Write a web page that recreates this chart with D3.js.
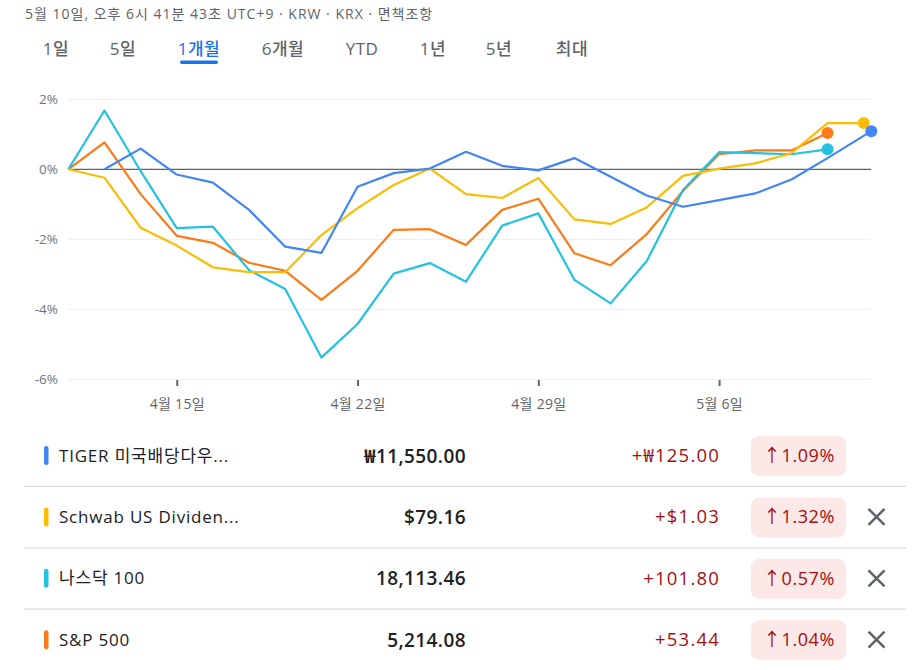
<!DOCTYPE html>
<html><head><meta charset="utf-8">
<script src="https://cdn.jsdelivr.net/npm/d3@7"></script>
<style>
body{margin:0;background:#fff;}
text{font-family:"Open Sans","Noto Sans CJK KR",sans-serif;}
</style></head>
<body><svg id="c" width="916" height="670"></svg>
<script>
const headerText = "5월 10일, 오후 6시 41분 43초 UTC+9 · KRW · KRX · 면책조항";
const tabs = ["1일","5일","1개월","6개월","YTD","1년","5년","최대"];
const tabX = [56,123,199,283,362,433,499,572];
const activeTab = 2;
const yTicks = [2,0,-2,-4,-6];
const xTickIndex = [3,8,13,18];
const xTickLabels = ["4월 15일","4월 22일","4월 29일","5월 6일"];

const tigerX = [1,2,3,4,5,6,7,8,9,10,11,12,13,14,15,16,17,18,19,20,21,22.21];
const tigerY = [0,0.59,-0.15,-0.38,-1.16,-2.21,-2.39,-0.50,-0.11,0.02,0.50,0.10,-0.03,0.32,-0.21,-0.75,-1.07,-0.88,-0.69,-0.29,0.32,1.09];
const schwabY = [0,-0.24,-1.67,-2.18,-2.80,-2.94,-2.94,-1.88,-1.11,-0.45,0.02,-0.71,-0.82,-0.25,-1.43,-1.56,-1.09,-0.19,0.02,0.17,0.46,1.32,1.32];
const nasdaqY = [0,1.68,-0.05,-1.68,-1.64,-2.88,-3.42,-5.38,-4.42,-2.98,-2.68,-3.21,-1.61,-1.26,-3.16,-3.83,-2.62,-0.59,0.49,0.46,0.43,0.57];
const spY = [0,0.77,-0.71,-1.90,-2.10,-2.67,-2.90,-3.73,-2.90,-1.73,-1.71,-2.16,-1.16,-0.84,-2.40,-2.74,-1.85,-0.62,0.43,0.54,0.54,1.04];

const names = ["TIGER 미국배당다우...","Schwab US Dividen...","나스닥 100","S&P 500"];
const colors = ["#4285f4","#fbbc04","#24c1e0","#fa7b17"];
const prices = ["₩11,550.00","$79.16","18,113.46","5,214.08"];
const changes = ["+₩125.00","+$1.03","+101.80","+53.44"];
const pcts = ["1.09%","1.32%","0.57%","1.04%"];
const removable = [false,true,true,true];

const svg = d3.select("#c");

svg.append("text").attr("x",25).attr("y",19).attr("font-size",14).attr("letter-spacing",1).attr("fill","#5f6368").text(headerText);

svg.selectAll(".tab").data(tabs).join("text")
  .attr("x",(d,i)=>tabX[i]).attr("y",55).attr("text-anchor","middle")
  .attr("font-size",17).attr("font-weight",500).attr("letter-spacing",0.5)
  .attr("fill",(d,i)=>i===activeTab?"#1a73e8":"#5f6368").text(d=>d);
svg.append("rect").attr("x",180).attr("y",60.5).attr("width",38).attr("height",3.5).attr("rx",1.75).attr("fill","#1a73e8");

const x = d3.scaleLinear().domain([0,22.21]).range([68.3,871.3]);
const y = d3.scaleLinear().domain([-6,2]).range([379.3,99.3]);

const g = svg.append("g");
g.selectAll(".grid").data(yTicks.filter(v=>v!==0)).join("line")
  .attr("x1",68).attr("x2",871).attr("y1",d=>y(d)).attr("y2",d=>y(d))
  .attr("stroke","#ebedef").attr("stroke-width",1);

const yAxis = d3.axisLeft(y).tickValues(yTicks).tickFormat(d=>d+"%").tickSize(0).tickPadding(0);
const ya = svg.append("g").attr("transform","translate(58,0)").call(yAxis);
ya.select(".domain").remove();
ya.selectAll("text").attr("font-size",13.5).attr("fill","#70757a").attr("font-family","'Open Sans',sans-serif");

const xAxis = d3.axisBottom(x).tickValues(xTickIndex).tickFormat((d,i)=>xTickLabels[i]).tickSize(6).tickPadding(13);
const xa = svg.append("g").attr("transform","translate(0,380)").call(xAxis);
xa.select(".domain").remove();
xa.selectAll(".tick line").attr("stroke","#5f6368").attr("stroke-width",2);
xa.selectAll("text").attr("font-size",14).attr("letter-spacing",0.3).attr("fill","#5f6368").attr("font-family","'Open Sans','Noto Sans CJK KR',sans-serif");

g.append("line").attr("x1",68).attr("x2",871).attr("y1",y(0)).attr("y2",y(0)).attr("stroke","#5f6368").attr("stroke-width",1.2);

const idx = arr => arr.map((v,i)=>[i,v]);
const series = [
  {pts: idx(spY), c: colors[3]},
  {pts: idx(nasdaqY), c: colors[2]},
  {pts: idx(schwabY), c: colors[1]},
  {pts: tigerY.map((v,i)=>[tigerX[i],v]), c: colors[0]}
];
const line = d3.line().x(d=>x(d[0])).y(d=>y(d[1]));
series.forEach(s=>{
  g.append("path").attr("d",line(s.pts)).attr("fill","none").attr("stroke",s.c).attr("stroke-width",2.2).attr("stroke-linejoin","round");
});
series.forEach(s=>{
  const last = s.pts[s.pts.length-1];
  g.append("circle").attr("cx",x(last[0])).attr("cy",y(last[1])).attr("r",6).attr("fill",s.c);
});

// table
const rowTop = 425, rowH = 61.4;
names.forEach((n,i)=>{
  const cy = rowTop + rowH*i + 30.5;
  const row = svg.append("g");
  if(i>0) row.append("line").attr("x1",24).attr("x2",906).attr("y1",rowTop+rowH*i).attr("y2",rowTop+rowH*i).attr("stroke","#dadce0").attr("stroke-width",1.2);
  row.append("rect").attr("x",44).attr("y",cy-9.5).attr("width",4.5).attr("height",19).attr("rx",2.2).attr("fill",colors[i]);
  row.append("text").attr("x",59).attr("y",cy+6).attr("font-size",17).attr("letter-spacing",0.8).attr("fill","#202124").text(n);
  row.append("text").attr("x",466).attr("y",cy+7).attr("text-anchor","end").attr("font-size",19).attr("font-weight",600).attr("letter-spacing",0.4).attr("fill","#202124").text(prices[i]);
  row.append("text").attr("x",720).attr("y",cy+6.5).attr("text-anchor","end").attr("font-size",18.5).attr("letter-spacing",1.2).attr("fill","#a50e0e").text(changes[i]);
  const badge = row.append("g");
  const t = badge.append("text").attr("x",835).attr("y",cy+6.5).attr("text-anchor","end").attr("font-size",18).attr("letter-spacing",0.6).attr("fill","#a50e0e").text("↑"+pcts[i]);
  const bb = t.node().getBBox();
  badge.insert("rect","text").attr("x",bb.x-12).attr("y",cy-19.5).attr("width",846-(bb.x-12)).attr("height",40).attr("rx",8).attr("fill","#fce8e6");
  if(removable[i]){
    const cx = 876.5, s = 8;
    row.append("path").attr("d",`M${cx-s},${cy-s}L${cx+s},${cy+s}M${cx+s},${cy-s}L${cx-s},${cy+s}`).attr("stroke","#5f6368").attr("stroke-width",2.5);
  }
});
</script></body></html>
